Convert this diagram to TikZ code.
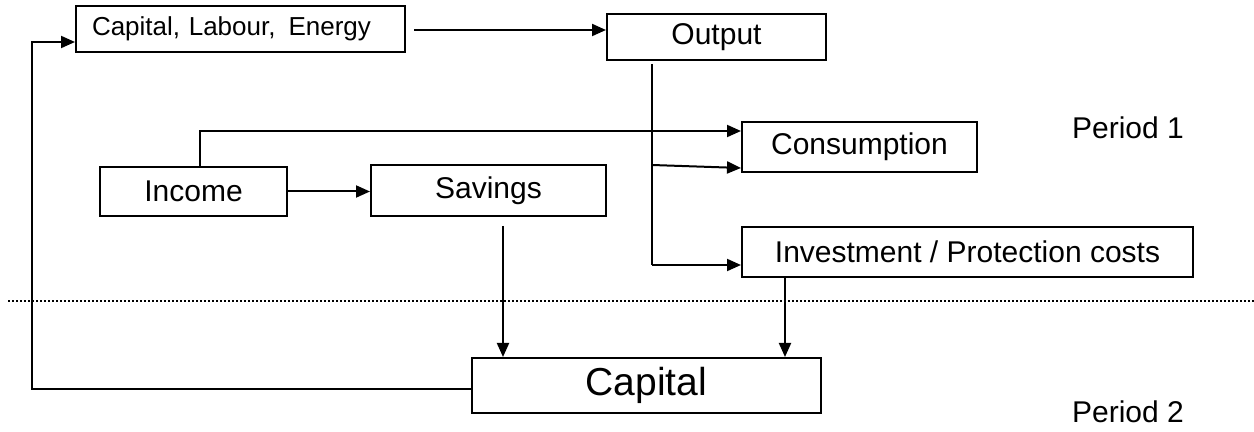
\documentclass[tikz,border=0pt]{standalone}
\usepackage{fontspec}
\setmainfont{Liberation Sans}
\usetikzlibrary{calc}
\usetikzlibrary{arrows.meta}
\tikzset{
  every node/.style = {font = \fontsize{15}{18}\selectfont}
}
\tikzset{
    >={Triangle[length=7pt,width=6pt]}
}
\tikzset{
  flowbox/.style = {draw, line width=1pt, rectangle, inner sep=0pt}
}

\begin{document}
\begin{tikzpicture}[x=0.5pt,y=-0.5pt,line width=1pt]
\useasboundingbox (0,0) rectangle (1254,432);

% The boxes
\node[flowbox, text width=148.5pt, inner xsep=8pt, align=left, minimum height=23pt, font=\fontsize{13}{15}\selectfont] (cle) at (240.5,29) {Capital, Labour, \,Energy};
\node[flowbox, minimum width=109.5pt, minimum height=23pt] (output) at (716.5,37) {Output};
\node[flowbox, minimum width=117.5pt, minimum height=25pt] (cons) at (859.5,147) {Consumption};
\node[flowbox, minimum width=93.5pt, minimum height=24.5pt] (income) at (193.5,191.5) {Income};
\node[flowbox, minimum width=117.5pt, minimum height=25.5pt] (sav) at (488.5,190.5) {Savings};
\node[flowbox, minimum width=225.5pt, minimum height=25pt] (inv) at (967.5,252) {Investment / Protection costs};
\node[flowbox, minimum width=174.5pt, minimum height=27.5pt, font=\fontsize{19.5}{22}\selectfont] (cap) at (646.5,385.5) {Capital};

% Period labels
\node (p1) at (1128,128) {Period 1};
\node (p2) at (1128,412) {Period 2};

% Dotted divider
\draw[line width=0.6pt, dash pattern=on 1pt off 1pt] (8,301) -- (1254,301);

% Junction points
\coordinate (top) at (652,64);
\coordinate (bend) at (652,265);
\coordinate (split) at (652,165);
\coordinate (up) at (200,131);
\coordinate (left) at (32,389);
\coordinate (lefttop) at (32,42);

% Connectors
\draw[->] ([xshift=4pt]cle.east |- 0,30) -- (output.west |- 0,30);
\draw (top) -- (bend);
\draw[->] (bend) -- (inv.west |- bend);
\draw[->] (split) -- ($(cons.west)+(0,21)$);
\draw[->] (income.north -| up) -- (up) -- (cons.west |- up);
\draw[->] (income.east) -- (sav.west |- income.east);
\draw[->] ([yshift=-4.5pt]sav.south -| 503,0) -- (cap.north -| 503,0);
\draw[->] (inv.south -| 785,0) -- (cap.north -| 785,0);
\draw[->] (cap.west |- left) -- (left) -- (lefttop) -- (cle.west |- lefttop);
\end{tikzpicture}
\end{document}
